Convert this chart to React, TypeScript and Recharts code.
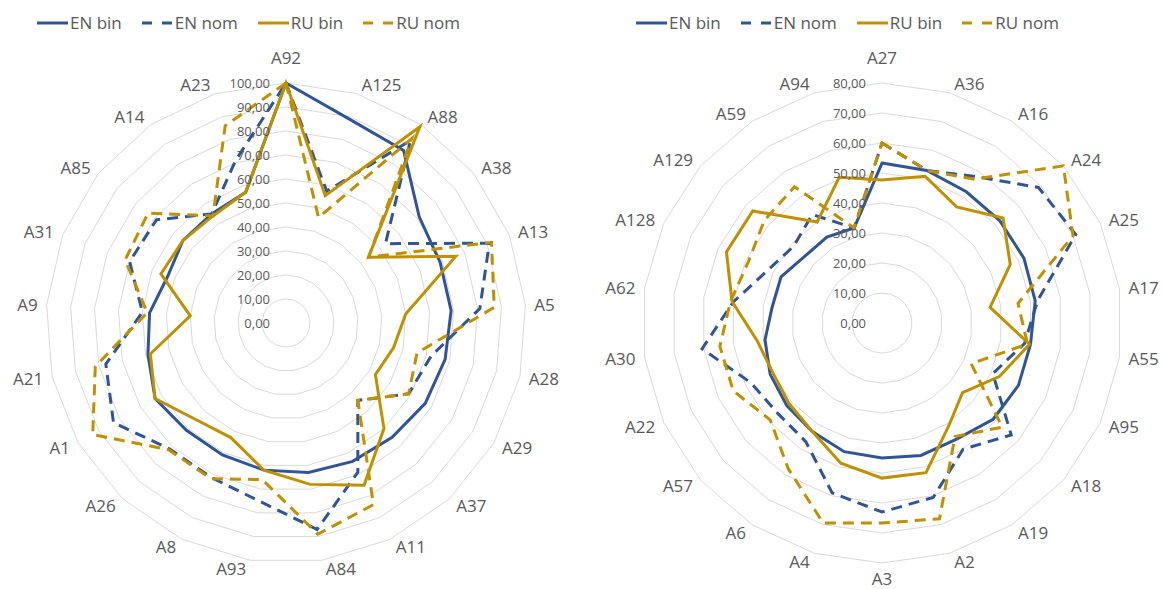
import React from 'react';
import { RadarChart, Radar, PolarGrid, PolarAngleAxis, PolarRadiusAxis, Legend } from 'recharts';

const BLUE = '#2F5597';
const GOLD = '#BF9000';
const TEXT = '#595959';
const FONT = '"Open Sans", "Noto Sans", sans-serif';

// ---------- Left chart ----------
const leftCategories = ['A92', 'A125', 'A88', 'A38', 'A13', 'A5', 'A28', 'A29', 'A37', 'A11', 'A84', 'A93', 'A8', 'A26', 'A1', 'A21', 'A9', 'A31', 'A85', 'A14', 'A23'];
const leftEnBin = [100, 89, 87, 71, 69, 69, 68, 67, 65, 64, 63, 62, 61, 61, 63, 59, 57, 53, 55, 55, 57];
const leftEnNom = [100, 57.5, 92, 53, 91, 81, 62, 59, 44, 69, 87, 75, 71.5, 71.5, 83, 77, 60, 70, 69, 55, 71];
const leftRuBin = [100, 55.5, 99, 44, 76, 50, 46, 43, 60, 75, 68, 62, 53, 55, 63, 58, 40, 56, 55, 54, 57];
const leftRuNom = [100, 46, 93, 44, 92, 87, 56, 59, 44, 84, 89, 66, 72, 72, 93, 81.5, 58, 72, 73.5, 54, 86];
const leftTicks = [0, 10, 20, 30, 40, 50, 60, 70, 80, 90, 100];

// ---------- Right chart ----------
const rightCategories = ['A27', 'A36', 'A16', 'A24', 'A25', 'A17', 'A55', 'A95', 'A18', 'A19', 'A2', 'A3', 'A4', 'A6', 'A57', 'A22', 'A30', 'A62', 'A128', 'A129', 'A59', 'A94'];
const rightEnBin = [53.3, 53, 52, 52, 52, 51.6, 50, 50, 49, 46, 46, 45, 44.7, 43, 42, 41, 39.4, 37, 37, 34, 34, 33];
const rightEnNom = [60, 53, 58, 69, 71, 52.4, 48, 40.6, 57, 50, 60.6, 63, 59, 47, 46, 48, 60.6, 50, 42, 39, 43, 33];
const rightRuBin = [47.7, 51, 46, 53.4, 47, 36.4, 49.7, 43, 35.5, 41, 52, 51.7, 48.7, 43, 41, 40, 42, 50.5, 57, 57, 40, 50.6];
const rightRuNom = [60, 53, 57, 80, 70, 45.8, 49, 32.7, 53, 45, 68, 66.7, 69.5, 57.8, 49.3, 54.5, 54.6, 51, 49, 52, 54, 33];
const rightTicks = [0, 10, 20, 30, 40, 50, 60, 70, 80];

const seriesNames = ['EN bin', 'EN nom', 'RU bin', 'RU nom'];

type Row = { name: string; enBin: number; enNom: number; ruBin: number; ruNom: number };

function buildRows(cats: string[], a: number[], b: number[], c: number[], d: number[]): Row[] {
  return cats.map((name, i) => ({ name, enBin: a[i], enNom: b[i], ruBin: c[i], ruNom: d[i] }));
}

const leftData = buildRows(leftCategories, leftEnBin, leftEnNom, leftRuBin, leftRuNom);
const rightData = buildRows(rightCategories, rightEnBin, rightEnNom, rightRuBin, rightRuNom);

const fmt = (v: number) => v.toFixed(2).replace('.', ',');

const CHART_W = 582;
const CHART_H = 589;
const CY = 323;
const R = 240;

function makeAngleTick(cx: number, cy: number) {
  return (props: any) => {
    const { x, y, payload } = props;
    const dx = x - cx;
    const dy = y - cy;
    const r = Math.hypot(dx, dy) || 1;
    const s = dx / r;
    const c = -dy / r;
    // vertex of the outer ring along this category's direction
    const vx = cx + R * s;
    const vy = cy - R * c;
    let tx: number;
    let ty: number;
    let anchor: 'start' | 'end' | 'middle';
    if (Math.abs(s) < 0.02) {
      tx = vx;
      ty = c > 0 ? vy - 25 : vy + 16;
      anchor = 'middle';
    } else {
      tx = vx + Math.sign(s) * (3 + 6 * Math.abs(s));
      ty = vy - 9 * c;
      anchor = s > 0 ? 'start' : 'end';
    }
    return (
      <text x={tx} y={ty} dy="0.36em" textAnchor={anchor} fontSize={17} fill={TEXT} fontFamily={FONT}>
        {payload.value}
      </text>
    );
  };
}

const RadiusTick = (props: any) => {
  const { x, y, payload } = props;
  return (
    <text x={x - 16} y={y} dy="0.36em" textAnchor="end" fontSize={13} fill={TEXT} fontFamily={FONT}>
      {fmt(payload.value)}
    </text>
  );
};

const LegendContent = () => {
  const styles = [
    { color: BLUE, dash: undefined },
    { color: BLUE, dash: '10 10' },
    { color: GOLD, dash: undefined },
    { color: GOLD, dash: '10 10' },
  ];
  return (
    <div style={{ display: 'flex', alignItems: 'center', fontFamily: FONT, fontSize: 17, color: TEXT, whiteSpace: 'nowrap', lineHeight: '22px' }}>
      {seriesNames.map((n, i) => (
        <div key={n} style={{ display: 'flex', alignItems: 'center', marginRight: 20 }}>
          <svg width={31} height={4} style={{ display: 'block' }}>
            <line x1={0} y1={2} x2={31} y2={2} stroke={styles[i].color} strokeWidth={3} strokeDasharray={styles[i].dash} />
          </svg>
          <span style={{ marginLeft: 2 }}>{n}</span>
        </div>
      ))}
    </div>
  );
};

function OneRadar({ data, cx, max, ticks, legendLeft }: { data: Row[]; cx: number; max: number; ticks: number[]; legendLeft: number }) {
  return (
    <RadarChart width={CHART_W} height={CHART_H} data={data} cx={cx} cy={CY} outerRadius={R} margin={{ top: 0, right: 0, bottom: 0, left: 0 }}>
      <PolarGrid gridType="polygon" radialLines={false} stroke="#D9D9D9" strokeWidth={1} />
      <PolarAngleAxis dataKey="name" tickLine={false} axisLine={false} tickSize={0} tick={makeAngleTick(cx, CY)} />
      <PolarRadiusAxis angle={90} domain={[0, max]} ticks={ticks as any} tickCount={ticks.length} axisLine={false} tick={RadiusTick} />
      <Radar name="EN bin" dataKey="enBin" stroke={BLUE} strokeWidth={3} fill="none" fillOpacity={0} dot={false} isAnimationActive={false} />
      <Radar name="EN nom" dataKey="enNom" stroke={BLUE} strokeWidth={3} strokeDasharray="11 7" fill="none" fillOpacity={0} dot={false} isAnimationActive={false} />
      <Radar name="RU bin" dataKey="ruBin" stroke={GOLD} strokeWidth={3} fill="none" fillOpacity={0} dot={false} isAnimationActive={false} />
      <Radar name="RU nom" dataKey="ruNom" stroke={GOLD} strokeWidth={3} strokeDasharray="11 7" fill="none" fillOpacity={0} dot={false} isAnimationActive={false} />
      <Legend content={<LegendContent />} wrapperStyle={{ position: 'absolute', top: 12, left: legendLeft, width: 'auto' }} />
    </RadarChart>
  );
}

export default function App() {
  return (
    <div style={{ position: 'absolute', left: 0, top: 0, width: 1164, height: 589, background: '#fff', overflow: 'hidden' }}>
      <div style={{ position: 'absolute', left: 0, top: 0 }}>
        <OneRadar data={leftData} cx={286} max={100} ticks={leftTicks} legendLeft={37} />
      </div>
      <div style={{ position: 'absolute', left: CHART_W, top: 0 }}>
        <OneRadar data={rightData} cx={300} max={80} ticks={rightTicks} legendLeft={54} />
      </div>
    </div>
  );
}
